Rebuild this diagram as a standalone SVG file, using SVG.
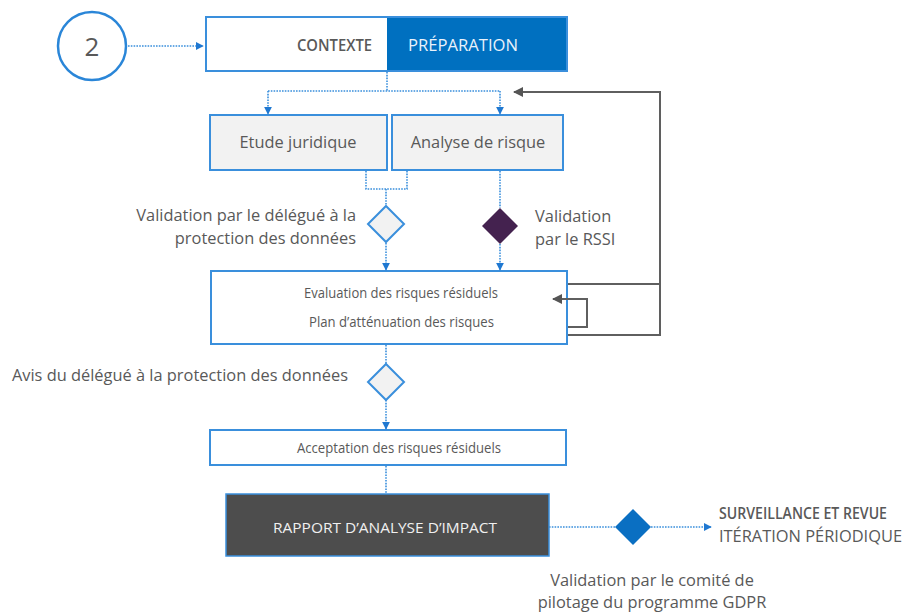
<svg xmlns="http://www.w3.org/2000/svg" width="904" height="613" viewBox="0 0 904 613">
<defs>
<style>
.t{font-family:"Open Sans","Noto Sans","Liberation Sans",sans-serif;fill:#595959}
.lbl{font-size:16.4px}
.box{stroke:#3a8fdc;stroke-width:2}
.dot{fill:none;stroke:#3a8fdc;stroke-width:1.6;stroke-dasharray:1.6 1.2}
.solid{fill:none;stroke:#5f5f5f;stroke-width:2}
</style>
<marker id="ab" viewBox="0 0 10 10" refX="9" refY="5" markerWidth="8" markerHeight="8" markerUnits="userSpaceOnUse" orient="auto"><path d="M0,0 L10,5 L0,10 z" fill="#1f78d1"/></marker>
<marker id="ag" viewBox="0 0 10 10" refX="9" refY="5" markerWidth="10" markerHeight="10" markerUnits="userSpaceOnUse" orient="auto"><path d="M0,0 L10,5 L0,10 z" fill="#555"/></marker>
</defs>
<rect width="904" height="613" fill="#fff"/>

<g id="start">
<circle cx="92" cy="46" r="34" fill="#fff" stroke="#2a86d8" stroke-width="2.5"/>
<text class="t" x="92" y="55.5" text-anchor="middle" font-size="26" fill="#4a4a4a">2</text>
</g>

<g id="contexte-preparation">
<rect x="206" y="17" width="361" height="54" fill="#fff"/>
<rect x="387" y="17" width="180" height="54" fill="#0070c0"/>
<rect x="206" y="17" width="361" height="54" fill="none" class="box"/>
<text class="t" x="297" y="51" font-size="15.5" font-weight="600" textLength="75" lengthAdjust="spacingAndGlyphs" fill="#4a4a4a">CONTEXTE</text>
<text class="t" x="408" y="51" font-size="15.5" textLength="110" lengthAdjust="spacingAndGlyphs" style="fill:#eaf2fb">PRÉPARATION</text>
</g>

<g id="etude">
<rect x="210" y="115" width="177" height="55" fill="#f2f2f2" class="box"/>
<text class="t lbl" x="298" y="148" text-anchor="middle">Etude juridique</text>
</g>

<g id="analyse">
<rect x="392" y="115" width="171" height="55" fill="#f2f2f2" class="box"/>
<text class="t lbl" x="478" y="148" text-anchor="middle">Analyse de risque</text>
</g>

<g id="val-dpo">
<path d="M386,206 L404,224 L386,242 L368,224 z" fill="#f2f2f2" stroke="#3a8fdc" stroke-width="2"/>
<text class="t lbl" x="356" y="221" text-anchor="end">Validation par le délégué à la</text>
<text class="t lbl" x="356" y="244" text-anchor="end">protection des données</text>
</g>

<g id="val-rssi">
<path d="M500,208 L518,226 L500,244 L482,226 z" fill="#44224f"/>
<text class="t lbl" x="535" y="222">Validation</text>
<text class="t lbl" x="535" y="245">par le RSSI</text>
</g>

<g id="evaluation">
<rect x="211" y="271" width="356" height="73" fill="#fff" class="box"/>
<text class="t" x="304" y="298" font-size="14.5" textLength="194" lengthAdjust="spacingAndGlyphs">Evaluation des risques résiduels</text>
<text class="t" x="309" y="327" font-size="14.5" textLength="185" lengthAdjust="spacingAndGlyphs">Plan d’atténuation des risques</text>
</g>

<g id="avis">
<path d="M386,364 L404,382 L386,400 L368,382 z" fill="#f2f2f2" stroke="#3a8fdc" stroke-width="2"/>
<text class="t lbl" x="348" y="381" text-anchor="end">Avis du délégué à la protection des données</text>
</g>

<g id="acceptation">
<rect x="210" y="430" width="356" height="35" fill="#fff" class="box"/>
<text class="t" x="297" y="453" font-size="14.5" textLength="204" lengthAdjust="spacingAndGlyphs">Acceptation des risques résiduels</text>
</g>

<g id="rapport">
<rect x="226" y="494" width="323" height="62" fill="#4d4d4d" stroke="#3a8fdc" stroke-width="1.5"/>
<text class="t" x="273" y="533" font-size="14.5" textLength="224" lengthAdjust="spacingAndGlyphs" style="fill:#f0f0f0">RAPPORT D’ANALYSE D’IMPACT</text>
</g>

<g id="val-comite">
<path d="M633,509 L651,527 L633,545 L615,527 z" fill="#0a6fc2"/>
<text class="t lbl" x="652" y="586" text-anchor="middle">Validation par le comité de</text>
<text class="t lbl" x="652" y="608" text-anchor="middle">pilotage du programme GDPR</text>
</g>

<g id="surveillance">
<text class="t" x="719" y="519" font-size="15.5" font-weight="600" textLength="168" lengthAdjust="spacingAndGlyphs" fill="#404040">SURVEILLANCE ET REVUE</text>
<text class="t" x="719" y="542" font-size="16" textLength="183" lengthAdjust="spacingAndGlyphs">ITÉRATION PÉRIODIQUE</text>
</g>

<g id="connectors">
<path class="dot" d="M128,46 H203" marker-end="url(#ab)"/>
<path class="dot" d="M387,72 V91"/>
<path class="dot" d="M268,91 H500"/>
<path class="dot" d="M268,91 V114" marker-end="url(#ab)"/>
<path class="dot" d="M500,91 V114" marker-end="url(#ab)"/>
<path class="dot" d="M366,171 V189 H407 V171"/>
<path class="dot" d="M386,189 V205"/>
<path class="dot" d="M386,243 V270" marker-end="url(#ab)"/>
<path class="dot" d="M500,171 V208"/>
<path class="dot" d="M500,244 V270" marker-end="url(#ab)"/>
<path class="dot" d="M386,345 V364"/>
<path class="dot" d="M386,400 V429" marker-end="url(#ab)"/>
<path class="dot" d="M386,466 V494"/>
<path class="dot" d="M549,527 H615"/>
<path class="dot" d="M651,527 H711" marker-end="url(#ab)"/>
<path class="solid" d="M568,284 H660 M568,335 H660 V92 H514" marker-end="url(#ag)"/>
<path class="solid" d="M568,327 H587 V299 H553" marker-end="url(#ag)"/>
</g>
</svg>
